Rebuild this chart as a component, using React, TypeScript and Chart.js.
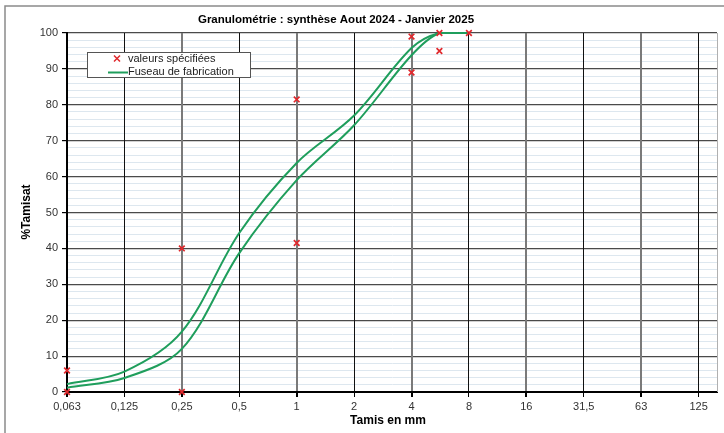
import React, { useEffect, useRef } from 'react';
import { Chart, registerables } from 'chart.js';
Chart.register(...registerables);

const SIEVE_MM = [0.063, 0.125, 0.25, 0.5, 1, 2, 4, 8, 16, 31.5, 63, 125];
const SIEVE_LABELS = ['0,063', '0,125', '0,25', '0,5', '1', '2', '4', '8', '16', '31,5', '63', '125'];

const SPEC_MM = [0.063, 0.063, 0.25, 0.25, 1, 1, 4, 4, 5.6, 5.6, 8];
const SPEC_PCT = [0, 6, 0, 40, 41.5, 81.5, 89, 99, 95, 100, 100];

const FUSEAU_MM = [0.063, 0.125, 0.25, 0.5, 1, 2, 4, 5.6, 8];
const FUSEAU_HIGH = [2.2, 5.7, 16.8, 44.3, 63.8, 77, 95.8, 100, 100];
const FUSEAU_LOW = [1.2, 3.9, 12, 38.7, 59, 74.3, 93.8, 100, 100];

const TITLE = 'Granulométrie : synthèse Aout 2024 - Janvier 2025';
const X_TITLE = 'Tamis en mm';
const Y_TITLE = '%Tamisat';
const LEGEND_SPEC = 'valeurs spécifiées';
const LEGEND_FUSEAU = 'Fuseau de fabrication';

const FONT = '"Liberation Sans", Arial, sans-serif';
const RED = '#e0282c';
const GREEN = '#1f9e5c';

// position of a sieve size on the evenly spaced sieve axis
function pos(mm: number): number {
  for (let i = 0; i < SIEVE_MM.length - 1; i++) {
    if (mm <= SIEVE_MM[i + 1]) {
      return i + Math.log(mm / SIEVE_MM[i]) / Math.log(SIEVE_MM[i + 1] / SIEVE_MM[i]);
    }
  }
  return SIEVE_MM.length - 1;
}

const decorPlugin = {
  id: 'decor',
  afterDraw(chart: any) {
    const ctx = chart.ctx as CanvasRenderingContext2D;
    const a = chart.chartArea;
    ctx.save();
    // outer frame
    ctx.strokeStyle = '#8a8a8a';
    ctx.lineWidth = 1.5;
    ctx.strokeRect(5, 6, 800, 500);
    // plot right border
    ctx.strokeStyle = '#b0b0b0';
    ctx.lineWidth = 1;
    ctx.beginPath();
    ctx.moveTo(a.right + 0.5, a.top);
    ctx.lineTo(a.right + 0.5, a.bottom);
    ctx.stroke();

    ctx.fillStyle = '#000';
    ctx.textBaseline = 'middle';
    ctx.textAlign = 'center';
    ctx.font = 'bold 11.5px ' + FONT;
    ctx.fillText(TITLE, 336, 20);
    ctx.font = 'bold 12px ' + FONT;
    ctx.fillText(X_TITLE, 388, 421);
    ctx.save();
    ctx.translate(27, 212);
    ctx.rotate(-Math.PI / 2);
    ctx.fillText(Y_TITLE, 0, 0);
    ctx.restore();

    // legend
    ctx.fillStyle = '#fff';
    ctx.fillRect(87.5, 52.5, 163, 25);
    ctx.strokeStyle = '#555';
    ctx.lineWidth = 1;
    ctx.strokeRect(87.5, 52.5, 163, 25);
    ctx.strokeStyle = RED;
    ctx.lineWidth = 1.5;
    ctx.beginPath();
    ctx.moveTo(114, 55.5); ctx.lineTo(120, 61.5);
    ctx.moveTo(120, 55.5); ctx.lineTo(114, 61.5);
    ctx.stroke();
    ctx.strokeStyle = GREEN;
    ctx.lineWidth = 2;
    ctx.beginPath();
    ctx.moveTo(108, 72.5); ctx.lineTo(128, 72.5);
    ctx.stroke();
    ctx.fillStyle = '#222';
    ctx.textAlign = 'left';
    ctx.font = '11px ' + FONT;
    ctx.fillText(LEGEND_SPEC, 128, 58.5);
    ctx.fillText(LEGEND_FUSEAU, 128, 72);
    ctx.restore();
  },
};

export default function App() {
  const ref = useRef<HTMLCanvasElement | null>(null);
  useEffect(() => {
    if (!ref.current) return;
    const spec = SPEC_MM.map((m, i) => ({ x: pos(m), y: SPEC_PCT[i] }));
    const high = FUSEAU_MM.map((m, i) => ({ x: pos(m), y: FUSEAU_HIGH[i] }));
    const low = FUSEAU_MM.map((m, i) => ({ x: pos(m), y: FUSEAU_LOW[i] }));
    const lineDs = (label: string, data: any[]) => ({
      label,
      data,
      showLine: true,
      borderColor: GREEN,
      backgroundColor: GREEN,
      borderWidth: 2,
      pointRadius: 0,
      tension: 0.33,
      clip: { left: 5, right: 5, top: 1, bottom: 5 },
      order: 2,
    });
    const chart = new Chart(ref.current, {
      type: 'scatter',
      data: {
        datasets: [
          lineDs('Fuseau haut', high) as any,
          lineDs('Fuseau bas', low) as any,
          {
            label: LEGEND_SPEC,
            data: spec,
            showLine: false,
            pointStyle: 'crossRot',
            pointRadius: 4,
            pointBorderWidth: 1.7,
            borderColor: RED,
            backgroundColor: RED,
            clip: false,
            order: 1,
          } as any,
        ],
      },
      options: {
        responsive: false,
        animation: false,
        layout: { padding: { top: 33, right: 7, left: 0, bottom: 0 } },
        plugins: { legend: { display: false }, title: { display: false }, tooltip: { enabled: false } },
        scales: {
          x: {
            type: 'linear',
            min: 0,
            max: 11.32,
            afterBuildTicks: (scale: any) => {
              scale.ticks = SIEVE_MM.map((_, i) => ({ value: i }));
            },
            afterFit: (scale: any) => { scale.height = 41; },
            ticks: {
              autoSkip: false,
              maxRotation: 0,
              padding: 3,
              color: '#333',
              font: { family: FONT, size: 11 },
              callback: (v: any) => SIEVE_LABELS[Math.round(Number(v))] ?? '',
            },
            grid: {
              z: -1,
              color: (c: any) => (c.index % 2 === 0 ? '#7a7a7a' : '#111'),
              lineWidth: (c: any) => (c.index % 2 === 0 ? 2 : 1),
              tickLength: 5,
              tickColor: '#000',
            },
            border: { color: '#000', width: 2 },
          },
          y: {
            type: 'linear',
            min: 0,
            max: 100,
            afterFit: (scale: any) => { scale.width = 67; },
            ticks: {
              stepSize: 2,
              autoSkip: false,
              padding: 4,
              color: '#333',
              font: { family: FONT, size: 11 },
              callback: (v: any) => (Number(v) % 10 === 0 ? String(v) : ''),
            },
            grid: {
              z: -2,
              tickLength: 5,
              color: (c: any) => (c.tick && c.tick.value % 10 === 0 ? '#4a4a4a' : '#dde7ef'),
              tickColor: (c: any) => (c.tick && c.tick.value % 10 === 0 ? '#000' : 'rgba(0,0,0,0)'),
              lineWidth: (c: any) => (c.tick && c.tick.value % 10 === 0 ? 1.2 : 1),
            },
            border: { color: '#000', width: 2 },
          },
        },
      },
      plugins: [decorPlugin],
    });
    return () => chart.destroy();
  }, []);
  return (
    <div style={{ position: 'fixed', left: 0, top: 0, width: 724, height: 433, background: '#fff', overflow: 'hidden' }}>
      <canvas ref={ref} width={724} height={433} style={{ display: 'block' }} />
    </div>
  );
}
